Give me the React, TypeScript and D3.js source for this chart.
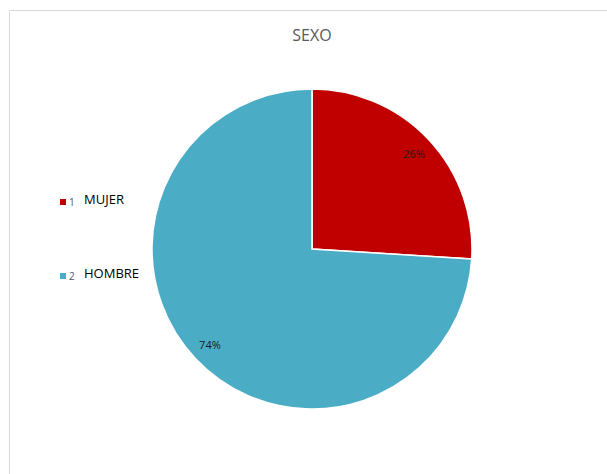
import React from "react";
import * as d3 from "d3";

const categories = ["MUJER", "HOMBRE"];
const codes = ["1", "2"];
const values = [26, 74];
const colors = ["#C00000", "#4BACC6"];
const title = "SEXO";

export default function App() {
  const W = 607, H = 474;
  const cx = 312, cy = 249, r = 160;
  const pie = d3.pie<number>().sort(null).value((d) => d)(values);
  const arc = d3.arc<d3.PieArcDatum<number>>().innerRadius(0).outerRadius(r);
  const total = d3.sum(values);
  const labelArc = d3.arc<d3.PieArcDatum<number>>().innerRadius(r * 0.875).outerRadius(r * 0.875);
  const legendY = d3.scalePoint<string>().domain(categories).range([202, 276]);
  return (
    <svg width={W} height={H} style={{ position: "absolute", left: 0, top: 0 }}>
      <rect x={0} y={0} width={W} height={H} fill="#fff" />
      <path d={`M9.5,${H} V10.5 H${W}`} fill="none" stroke="#d9d9d9" strokeWidth={1} />
      <text x={312} y={41} textAnchor="middle" fontFamily="'Open Sans', sans-serif" fontSize={16} fill="#595959">
        {title}
      </text>
      <g transform={`translate(${cx},${cy})`}>
        {pie.map((p, i) => (
          <path key={i} d={arc(p) || ""} fill={colors[i]} stroke="#fff" strokeWidth={1.5} />
        ))}
        {pie.map((p, i) => {
          const [lx, ly] = labelArc.centroid(p);
          return (
            <text key={"l" + i} x={lx} y={ly} textAnchor="middle" dominantBaseline="central"
              fontFamily="'Open Sans', sans-serif" fontSize={11} fill="#1a1a1a">
              {Math.round((values[i] / total) * 100)}%
            </text>
          );
        })}
      </g>
      {categories.map((c, i) => {
        const y = legendY(c) as number;
        return (
          <g key={"lg" + i}>
            <rect x={60} y={y - 3} width={6} height={6} fill={colors[i]} />
            <text x={69} y={y + 4} fontFamily="'Open Sans', sans-serif" fontSize={10} fill="#595959">{codes[i]}</text>
            <text x={84} y={y + 2} fontFamily="'Open Sans', sans-serif" fontSize={13} fill="#000">{c}</text>
          </g>
        );
      })}
    </svg>
  );
}
